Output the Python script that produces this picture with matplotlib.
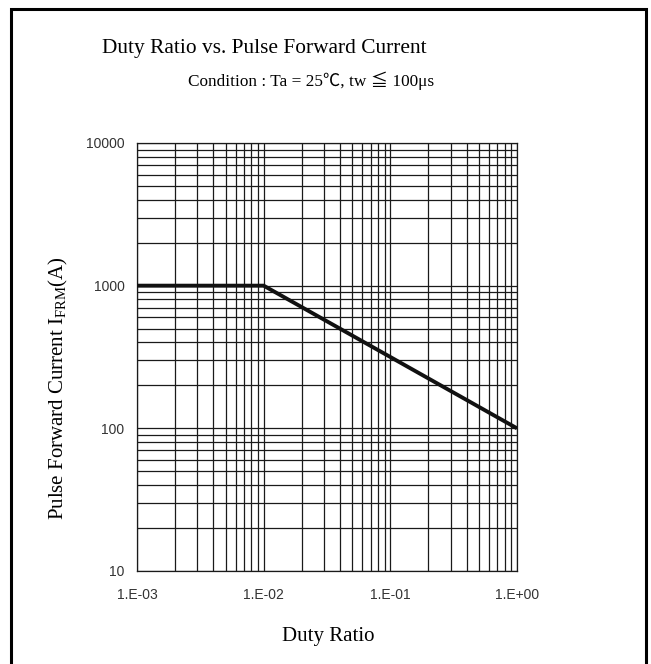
import matplotlib
matplotlib.use("Agg")
import matplotlib.pyplot as plt
from matplotlib.patches import Rectangle
from matplotlib.ticker import LogLocator, FixedLocator, NullFormatter

# Data
duty_ratio = [1e-3, 1e-2, 1.0]
pulse_current = [1000, 1000, 100]
x_ticks = [1e-3, 1e-2, 1e-1, 1.0]
x_tick_labels = ["1.E-03", "1.E-02", "1.E-01", "1.E+00"]
y_ticks = [10, 100, 1000, 10000]
y_tick_labels = ["10", "100", "1000", "10000"]

title = "Duty Ratio vs. Pulse Forward Current"
subtitle = "Condition : Ta = 25\u2103, tw \u2266 100\u03bcs"
xlabel = "Duty Ratio"
ylabel = r"Pulse Forward Current I$_{\mathrm{FRM}}$(A)"

plt.rcParams["mathtext.fontset"] = "custom"
plt.rcParams["mathtext.rm"] = "Liberation Serif"
plt.rcParams["mathtext.it"] = "Liberation Serif:italic"

W, H = 651, 664
fig = plt.figure(figsize=(W / 100, H / 100), dpi=100)

def fx(px):
    return px / W

def fy(py):
    return 1 - py / H

# outer frame
fig.patches.append(Rectangle((fx(11), fy(680)), fx(646) - fx(11), fy(9) - fy(680),
                             transform=fig.transFigure, fill=False,
                             edgecolor="black", linewidth=2.2))

left, right, top, bottom = 137, 517, 143, 571
ax = fig.add_axes([fx(left), fy(bottom), fx(right) - fx(left), fy(top) - fy(bottom)])
ax.set_xscale("log")
ax.set_yscale("log")
ax.set_xlim(1e-3, 1.0)
ax.set_ylim(10, 10000)

ax.xaxis.set_major_locator(FixedLocator(x_ticks))
ax.yaxis.set_major_locator(FixedLocator(y_ticks))
ax.xaxis.set_minor_locator(LogLocator(base=10, subs=range(2, 10), numticks=20))
ax.yaxis.set_minor_locator(LogLocator(base=10, subs=range(2, 10), numticks=20))
ax.xaxis.set_minor_formatter(NullFormatter())
ax.yaxis.set_minor_formatter(NullFormatter())
ax.set_xticklabels(x_tick_labels)
ax.set_yticklabels(y_tick_labels)

ax.grid(True, which="both", color="#1a1a1a", linewidth=0.9)
ax.tick_params(which="both", length=0)
ax.tick_params(axis="x", pad=12)
ax.tick_params(axis="y", pad=9)
for lbl in ax.get_xticklabels() + ax.get_yticklabels():
    lbl.set_fontfamily("Liberation Sans")
    lbl.set_fontsize(10)
    lbl.set_color("#333333")
for sp in ax.spines.values():
    sp.set_color("#1a1a1a")
    sp.set_linewidth(0.9)

ax.plot(duty_ratio, pulse_current, color="#111111", linewidth=2.8,
        solid_capstyle="butt", solid_joinstyle="miter", zorder=5)

fig.text(fx(264), fy(49), title, ha="center", va="center",
         family="Liberation Serif", fontsize=15.4)
fig.text(fx(311), fy(81), subtitle, ha="center", va="center",
         family=["Liberation Serif", "Noto Sans CJK JP"], fontsize=12.4)
fig.text(fx(328), fy(636), xlabel, ha="center", va="center",
         family="Liberation Serif", fontsize=15)
fig.text(fx(58), fy(388), ylabel, ha="center", va="center", rotation=90,
         family="Liberation Serif", fontsize=15)

fig.savefig("out.png", dpi=100)
